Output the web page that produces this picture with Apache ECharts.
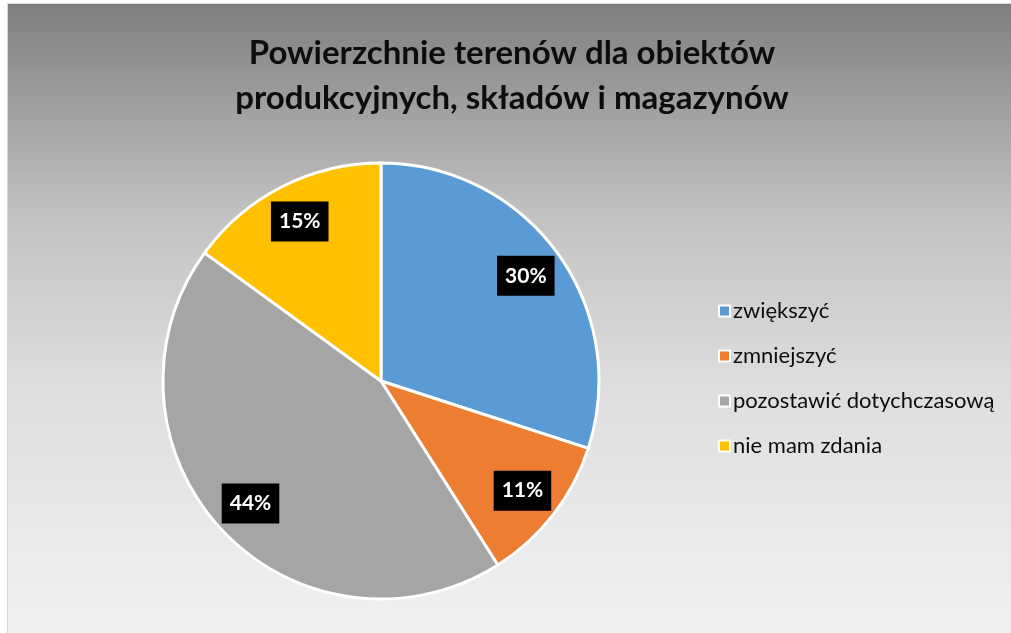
<!DOCTYPE html>
<html>
<head>
<meta charset="utf-8">
<title>Powierzchnie terenów</title>
<script src="https://cdn.jsdelivr.net/npm/echarts@6/dist/echarts.min.js"></script>
<style>
  html, body {
    margin: 0;
    padding: 0;
    background: #fff;
    overflow: hidden;
  }
  .echart {
    position: absolute;
    left: 7px;
    top: 3px;
    width: 1010px;
    height: 640px;
    border: 1px solid #d9d9d9;
  }
</style>
</head>
<body>
<div class="echart" id="main"></div>
<script>
// dane
var categories = ["zwiększyć", "zmniejszyć", "pozostawić dotychczasową", "nie mam zdania"];
var values = [30, 11, 44, 15];
var colors = ["#5b9bd5", "#ed7d31", "#a5a5a5", "#ffc000"];

var pieData = categories.map(function (name, i) {
  return { name: name, value: values[i] };
});

var chart = echarts.init(document.getElementById("main"));

chart.setOption({
  animation: false,
  color: colors,
  backgroundColor: new echarts.graphic.LinearGradient(0, 0, 0, 1, [
    { offset: 0, color: "#7f7f7f" },
    { offset: 0.33, color: "#c2c2c2" },
    { offset: 0.6, color: "#dedede" },
    { offset: 1, color: "#f2f2f2" }
  ]),
  title: {
    text: "Powierzchnie terenów dla obiektów\nprodukcyjnych, składów i magazynów",
    left: 499,
    top: 22,
    textAlign: "center",
    textStyle: {
      fontFamily: "Lato",
      fontSize: 33,
      fontWeight: "bold",
      lineHeight: 45,
      color: "#0d0d0d"
    }
  },
  legend: {
    orient: "vertical",
    left: 705,
    top: 291,
    data: categories,
    icon: "rect",
    itemWidth: 11,
    itemHeight: 11,
    itemGap: 23,
    itemStyle: {
      borderColor: "#fff",
      borderWidth: 2
    },
    textStyle: {
      fontFamily: "Lato",
      fontSize: 22,
      color: "#0d0d0d",
      padding: [0, 0, 0, -2]
    }
  },
  series: [{
    // sektory
    name: "main",
    type: "pie",
    center: [373, 377],
    radius: [0, 218],
    startAngle: 90,
    clockwise: true,
    data: pieData,
    itemStyle: {
      borderColor: "#fff",
      borderWidth: 3
    },
    label: { show: false },
    labelLine: { show: false },
    emphasis: { disabled: true }
  }, {
    // przezroczysty pierścień tylko dla etykiet
    name: "labels",
    type: "pie",
    center: [373, 377],
    radius: [156, 196],
    startAngle: 90,
    clockwise: true,
    silent: true,
    data: pieData,
    itemStyle: { color: "rgba(0,0,0,0)" },
    label: {
      show: true,
      position: "inside",
      formatter: "{c}%",
      fontFamily: "Lato",
      fontSize: 21,
      fontWeight: "bold",
      color: "#fff",
      backgroundColor: "#000",
      padding: [10, 8, 9, 8]
    },
    labelLine: { show: false },
    emphasis: { disabled: true }
  }]
});
</script>
</body>
</html>
